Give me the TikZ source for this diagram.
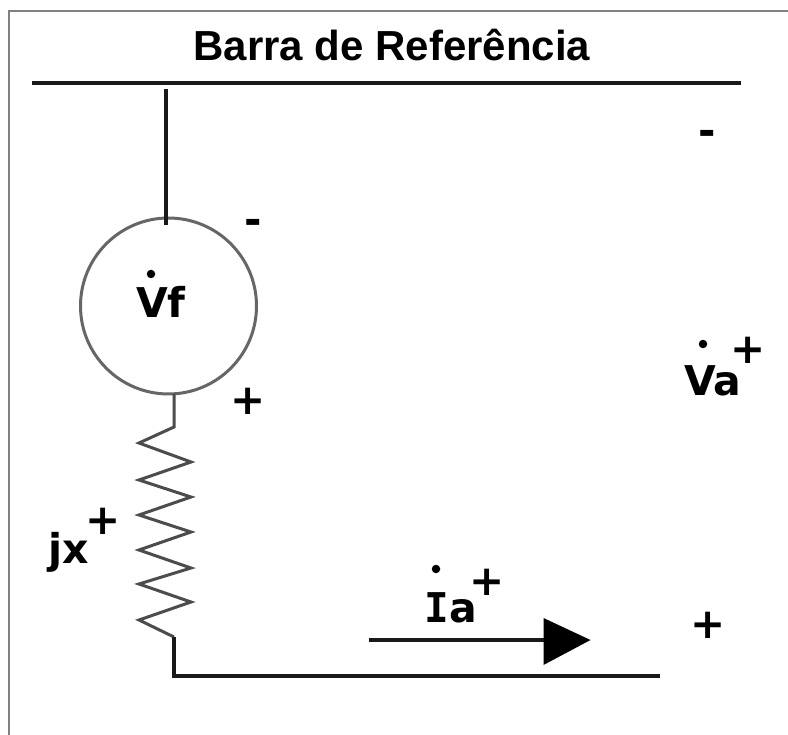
\documentclass[tikz,border=0pt]{standalone}
\usepackage{fontspec}
\setmainfont{Liberation Sans}
\newfontfamily\symfont{DejaVu Sans}[BoldFont={DejaVu Sans Bold}]
\newfontfamily\slabfont{DejaVu Sans Mono}[BoldFont={DejaVu Sans Mono Bold}]
\begin{document}
\begin{tikzpicture}[x=1pt,y=-1pt,
  wire/.style={line width=3.3pt,draw=black!90,line cap=butt},
  framel/.style={line width=2.6pt,draw=black!50},
  coil/.style={line width=3pt,draw=black!70,line join=miter},
  label/.style={inner sep=0pt,anchor=base,font=\symfont\fontsize{41}{41}\selectfont\bfseries},
  sign/.style={inner sep=0pt,anchor=center,font=\symfont\fontsize{42}{42}\selectfont\bfseries},
  dotmark/.style={circle,fill=black,inner sep=0pt,minimum size=8.5pt},
  source/.style={circle,draw=black!60,line width=3pt,minimum size=176pt,inner sep=0pt}]
\useasboundingbox (0,0) rectangle (788,735);
\fill[white] (0,0) rectangle (788,735);
% frame
\coordinate (fb) at (9,735); \coordinate (ftl) at (9,11); \coordinate (ftr) at (788,11);
\draw[framel] (fb) -- (ftl) -- (ftr);
% title and bus
\node[inner sep=0pt,anchor=base,font=\fontsize{42}{42}\selectfont\bfseries] (title) at (392,61) {Barra de Referência};
\coordinate (busL) at (32,83); \coordinate (busR) at (741,83);
\draw[wire] (busL) -- (busR);
% source
\node[source] (vs) at (168.5,306) {};
\coordinate (topA) at (166,89); \coordinate (topB) at (166,225);
\draw[wire] (topA) -- (topB);
\node[label] (vf) at (161,318) {Vf};
\node[dotmark] (dvf) at (151,274) {};
\node[sign] (m1) at (253,227) {-};
\node[sign] (p1) at (248,401) {+};
% reactor
\coordinate (r0) at (174,394); \coordinate (r1) at (174,427);
\coordinate (r2) at (174,637); \coordinate (r3) at (174,676);
\coordinate (lineEnd) at (660,676);
\draw[coil] (r0) -- (r1) -- (139,443) -- (191,462) -- (139,480) -- (191,497) -- (139,515) -- (191,532) -- (139,550) -- (191,568) -- (139,584) -- (191,602) -- (139,620) -- (r2);
\draw[wire] (r2) -- (r3) -- (lineEnd);
\node[label] (jx) at (69,563) {jx};
\node[sign] (p2) at (103,521) {+};
% current
\coordinate (aS) at (369,640); \coordinate (aE) at (545,640);
\draw[wire] (aS) -- (aE);
\fill[black] (543.5,618) -- (590.5,640) -- (543.5,665) -- cycle;
\node[label] (ia) at (451,622) {{\slabfont I}a};
\node[dotmark] (dia) at (436,569) {};
\node[sign] (p3) at (487,582) {+};
\node[sign] (p4) at (708,625) {+};
% Va
\node[label] (va) at (713,396) {Va};
\node[dotmark] (dva) at (703,344) {};
\node[sign] (p5) at (748,350) {+};
\node[sign] (m2) at (707,138) {-};
\end{tikzpicture}
\end{document}
